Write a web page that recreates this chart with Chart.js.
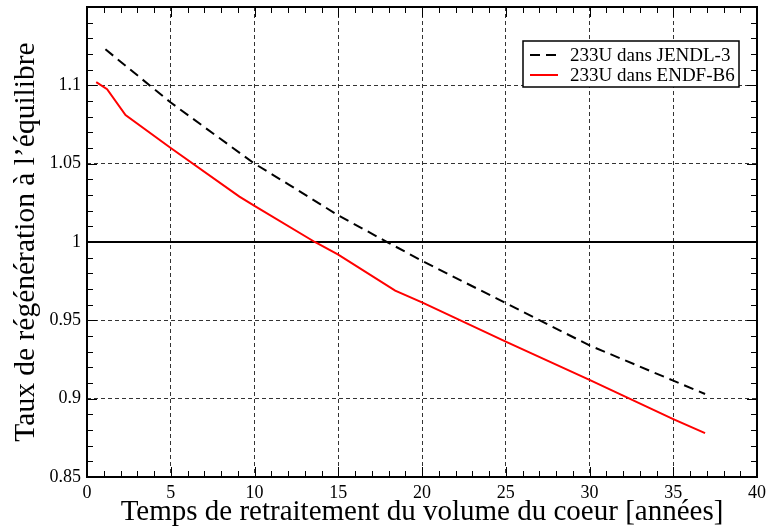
<!DOCTYPE html>
<html>
<head>
<meta charset="utf-8">
<script src="https://cdn.jsdelivr.net/npm/chart.js@4/dist/chart.umd.min.js"></script>
<style>
  body { margin: 0; background: #fff; }
  #wrap { width: 767px; height: 530px; }
</style>
</head>
<body>
<div id="wrap"><canvas id="myChart"></canvas></div>
<script>
// valeurs
var anneesJendl = [1.1, 5, 10, 12, 15, 18, 20, 25, 30, 35, 36.9];
var tauxJendl   = [1.123, 1.089, 1.05, 1.037, 1.017, 0.9995, 0.988, 0.961, 0.934, 0.9115, 0.903];
var anneesEndf  = [0.55, 1.2, 2.3, 5, 9.1, 10, 13.6, 15, 18.4, 20, 25, 30, 35, 36.9];
var tauxEndf    = [1.102, 1.0975, 1.081, 1.06, 1.029, 1.023, 1.0, 0.992, 0.969, 0.9615, 0.9364, 0.912, 0.887, 0.878];
var ligneUnX    = [0, 40];
var ligneUnY    = [1, 1];
var xMin = 0, xMax = 40, xPas = 5;
var yMin = 0.85, yMax = 1.15, yPas = 0.05;

function points(xs, ys) {
    return xs.map(function (x, i) { return { x: x, y: ys[i] }; });
}

var police = 'Liberation Serif, Times New Roman, serif';

// petites graduations vers l'interieur + cadre + legende
var cadre = {
    id: 'cadre',
    afterDraw: function (chart) {
        var ctx = chart.ctx;
        var a = chart.chartArea;
        var sx = chart.scales.x, sy = chart.scales.y;
        ctx.save();
        ctx.strokeStyle = '#000';
        ctx.lineWidth = 1;
        ctx.setLineDash([]);
        for (var i = xMin; i <= xMax; i++) {
            var px = Math.round(sx.getPixelForValue(i)) + 0.5;
            var l = (i % xPas === 0) ? 10 : 6;
            ctx.beginPath();
            ctx.moveTo(px, a.bottom); ctx.lineTo(px, a.bottom - l);
            ctx.moveTo(px, a.top); ctx.lineTo(px, a.top + l);
            ctx.stroke();
        }
        for (var k = 0; k <= 30; k++) {
            var v = yMin + k * 0.01;
            var py = Math.round(sy.getPixelForValue(v)) + 0.5;
            var ly = (k % 5 === 0) ? 10 : 6;
            ctx.beginPath();
            ctx.moveTo(a.left, py); ctx.lineTo(a.left + ly, py);
            ctx.moveTo(a.right, py); ctx.lineTo(a.right - ly, py);
            ctx.stroke();
        }
        ctx.lineWidth = 2;
        ctx.strokeRect(a.left, a.top, a.right - a.left, a.bottom - a.top);

        // legende
        var bx = 523, by = 41, bw = 216, bh = 46;
        ctx.fillStyle = '#fff';
        ctx.fillRect(bx, by, bw, bh);
        ctx.lineWidth = 1.5;
        ctx.strokeRect(bx, by, bw, bh);
        ctx.font = '19px ' + police;
        ctx.textBaseline = 'middle';
        ctx.fillStyle = '#000';
        [0, 1].forEach(function (j) {
            var ds = chart.data.datasets[j];
            var yy = by + 14 + j * 20;
            ctx.beginPath();
            ctx.strokeStyle = ds.borderColor;
            ctx.lineWidth = 2;
            ctx.setLineDash(ds.borderDash || []);
            ctx.moveTo(bx + 7, yy); ctx.lineTo(bx + 35, yy);
            ctx.stroke();
            ctx.setLineDash([]);
            ctx.fillText(ds.label, bx + 47, yy + 1);
        });
        ctx.restore();
    }
};

var canvas = document.getElementById('myChart');
var ctx = canvas.getContext('2d');

var myChart = new Chart(ctx, {
    type: 'scatter',
    data: {
        datasets: [{
            label: '233U dans JENDL-3',
            data: points(anneesJendl, tauxJendl),
            borderColor: '#000',
            borderDash: [10, 6],
            borderWidth: 2,
            showLine: true,
            pointRadius: 0,
            fill: false
        }, {
            label: '233U dans ENDF-B6',
            data: points(anneesEndf, tauxEndf),
            borderColor: '#ff0000',
            borderWidth: 2,
            showLine: true,
            pointRadius: 0,
            fill: false
        }, {
            label: 'unite',
            data: points(ligneUnX, ligneUnY),
            borderColor: '#000',
            borderWidth: 2,
            showLine: true,
            pointRadius: 0,
            fill: false
        }]
    },
    options: {
        responsive: true,
        maintainAspectRatio: false,
        animation: false,
        layout: { padding: { top: 7, right: 10, left: 0, bottom: 0 } },
        plugins: {
            legend: { display: false },
            tooltip: { enabled: false }
        },
        scales: {
            x: {
                type: 'linear',
                min: xMin, max: xMax,
                afterFit: function (s) {
                    s.height = 53;
                    s.paddingRight = 0;
                    s.paddingLeft = 0;
                },
                ticks: {
                    stepSize: xPas,
                    color: '#000',
                    padding: 5,
                    maxRotation: 0,
                    font: { family: police, size: 18 }
                },
                grid: { color: '#333', lineWidth: 1, drawTicks: false },
                border: { display: false, dash: [4, 3] },
                title: {
                    display: true,
                    text: 'Temps de retraitement du volume du coeur [années]',
                    color: '#000',
                    font: { family: police, size: 29 },
                    padding: { top: 0, bottom: 0 }
                }
            },
            y: {
                type: 'linear',
                min: yMin, max: yMax,
                afterFit: function (s) {
                    s.width = 87;
                    s.paddingTop = 0;
                    s.paddingBottom = 0;
                },
                ticks: {
                    stepSize: yPas,
                    color: '#000',
                    padding: 6,
                    font: { family: police, size: 18 },
                    callback: function (v) {
                        if (Math.abs(v - yMax) < 1e-6) return '';
                        return String(+v.toFixed(2));
                    }
                },
                grid: { color: '#333', lineWidth: 1, drawTicks: false },
                border: { display: false, dash: [4, 3] },
                title: {
                    display: true,
                    text: 'Taux de régénération à l’équilibre',
                    color: '#000',
                    font: { family: police, size: 29.5 },
                    padding: { top: 9, bottom: 0 }
                }
            }
        }
    },
    plugins: [cadre]
});
</script>
</body>
</html>
